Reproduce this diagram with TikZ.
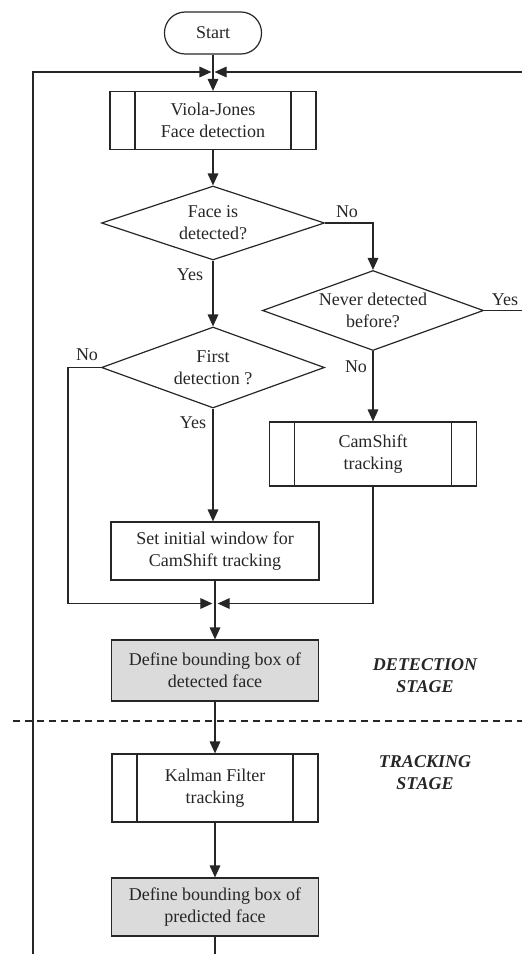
\documentclass[tikz,border=0pt]{standalone}
\usepackage{fontspec}
\setmainfont{Liberation Serif}
\usetikzlibrary{arrows.meta,shapes}

\begin{document}
\begin{tikzpicture}[x=0.75pt,y=0.75pt,yscale=-1,xscale=1,
      every node/.style={font=\fontsize{13.5}{16.5}\selectfont, text=black!85},
      box/.style={draw=black!85, line width=0.9pt, align=center, inner sep=1pt},
      subproc/.style={box, path picture={
            \draw[black!85, line width=0.9pt] ([xshift=18.75pt]path picture bounding box.north west) -- ([xshift=18.75pt]path picture bounding box.south west);
            \draw[black!85, line width=0.9pt] ([xshift=-18.75pt]path picture bounding box.north east) -- ([xshift=-18.75pt]path picture bounding box.south east);}},
      bbox/.style={box, fill=gray!28},
      decision/.style={draw=black!85, line width=0.9pt, diamond, aspect=2.9, inner sep=0pt, align=center},
      term/.style={draw=black!85, line width=0.9pt, rounded corners=15.5pt, minimum width=72.75pt, minimum height=31.5pt},
      arr/.style={black!85, line width=0.9pt, -{Triangle[length=9pt,width=8pt]}},
      ln/.style={black!85, line width=0.9pt},
      lbl/.style={inner sep=0pt},
      stage/.style={font=\fontsize{13.5}{16.5}\selectfont\bfseries\itshape, align=center}]
                  \useasboundingbox (0,0) rectangle (522,954);
                  %Terminal [id:start]
                  \node[term] (start) at (213,33) {Start};
                  \coordinate (jtop) at (213,72);
                  \coordinate (ltop) at (33,72);
                  \coordinate (rtop) at (522,72);
                  \coordinate (lbot) at (33,954);
                  %Shape: Subprocess [id:vj]
                  \node[subproc, minimum width=154.5pt, minimum height=43.5pt] (vj) at (213,120.5) {Viola-Jones\\Face detection};
                  %Shape: Diamonds
                  \node[decision, minimum width=167.25pt, minimum height=55.5pt] (d1) at (213,223) {Face is\\detected?};
                  \node[decision, minimum width=165.75pt, minimum height=60pt] (d2) at (373,310.5) {Never detected\\before?};
                  \node[decision, minimum width=167.25pt, minimum height=60.75pt] (d3) at (213,367.5) {First\\detection ?};
                  %Shape: Subprocess [id:cam]
                  \node[subproc, minimum width=155.25pt, minimum height=48pt] (cam) at (373,454) {CamShift\\tracking};
                  %Shape: Rectangle [id:init]
                  \node[box, minimum width=156pt, minimum height=43.5pt] (init) at (215,551) {Set initial window for\\CamShift tracking};
                  \coordinate (jbot) at (215,603.5);
                  \coordinate (nol) at (68,603.5);
                  %Shape: Rectangle (grey) [id:det]
                  \node[bbox, minimum width=155.25pt, minimum height=45.75pt] (det) at (215,670.5) {Define bounding box of\\detected face};
                  %Shape: Subprocess [id:kal]
                  \node[subproc, minimum width=154.5pt, minimum height=51pt] (kal) at (215,788) {Kalman Filter\\tracking};
                  %Shape: Rectangle (grey) [id:pred]
                  \node[bbox, minimum width=155.25pt, minimum height=43.5pt] (pred) at (215,907) {Define bounding box of\\predicted face};

                  % Text Node
                  \node[lbl] (no1) at (347,212) {No};
                  \node[lbl] (yes1) at (190,275) {Yes};
                  \node[lbl] (yes2) at (505,300) {Yes};
                  \node[lbl] (no2) at (356,367) {No};
                  \node[lbl] (no3) at (87,355) {No};
                  \node[lbl] (yes3) at (193,423) {Yes};
                  \node[stage] (dstage) at (425,676) {DETECTION\\STAGE};
                  \node[stage] (tstage) at (425,773) {TRACKING\\STAGE};

                  %Straight Lines
                  \draw[arr] (start) -- (vj);
                  \draw[arr, shorten >=1.2pt] (lbot) |- (jtop);
                  \draw[arr, shorten >=1.2pt] (rtop) -- (jtop);
                  \draw[arr] (vj) -- (d1);
                  \draw[arr] (d1.east) -| (d2.north);
                  \draw[arr] (d1) -- (d3);
                  \draw[ln] (d2.east) -- (d2.east -| rtop);
                  \draw[arr] (d2) -- (cam);
                  \draw[arr, shorten >=2pt] (d3.west) -| (nol) -- (jbot);
                  \draw[arr] (d3.south) -- (d3.south |- init.north);
                  \draw[arr, shorten >=2pt] (cam.south) |- (jbot);
                  \draw[arr] (init) -- (det);
                  \draw[arr] (det) -- (kal);
                  \draw[arr] (kal) -- (pred);
                  \draw[ln] (pred) -- (pred |- lbot);
                  %Dashed separator
                  \draw[ln, dash pattern=on 5.5pt off 3.5pt] (13,721) -- (522,721);
\end{tikzpicture}
\end{document}
